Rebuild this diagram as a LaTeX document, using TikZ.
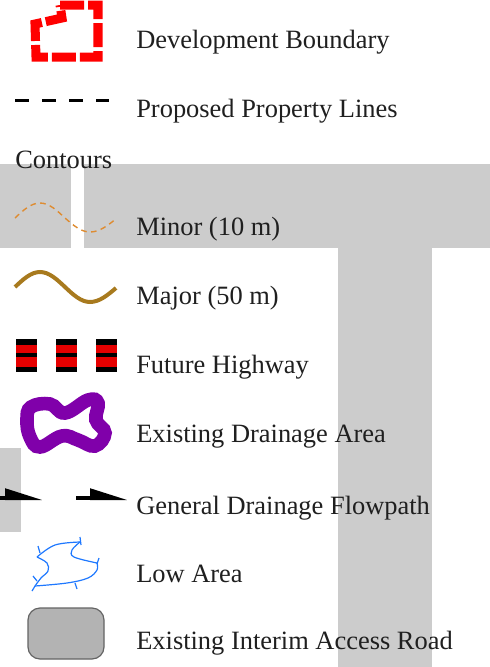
\documentclass[tikz,border=0pt]{standalone}
\usepackage{fontspec}
\setmainfont{Liberation Serif}
\usetikzlibrary{arrows.meta}
\definecolor{bggray}{RGB}{204,204,204}
\definecolor{minorc}{RGB}{222,140,50}
\definecolor{majorc}{RGB}{168,122,30}
\definecolor{hwred}{RGB}{230,0,0}
\definecolor{drainc}{RGB}{128,0,170}
\definecolor{lowc}{RGB}{30,120,255}
\definecolor{roadfill}{RGB}{179,179,179}
\definecolor{roadline}{RGB}{100,100,100}
\tikzset{
  lbl/.style={anchor=base west,inner sep=0pt,text=black!88,font=\fontsize{18.8}{22}\selectfont},
  flow/.style={line width=1mm,-{Triangle[harpoon,length=7.8mm,width=4.6mm]}}
}

\begin{document}
\begin{tikzpicture}[x=0.025cm,y=-0.025cm]
  \useasboundingbox (0,0) rectangle (490,667);
  \fill[bggray] (0,164) rectangle (71,248);
  \fill[bggray] (84,164) rectangle (490,248);
  \fill[bggray] (338,248) rectangle (432,667);
  \fill[bggray] (0,448) rectangle (21,532);

  \node[lbl] (1) at (136,48) {Development Boundary};
  \node[lbl] (2) at (136,117) {Proposed Property Lines};
  \node[lbl] (3) at (15,168) {Contours};
  \node[lbl] (4) at (136,235) {Minor (10 m)};
  \node[lbl] (5) at (136,304) {Major (50 m)};
  \node[lbl] (6) at (136,373) {Future Highway};
  \node[lbl] (7) at (136,442) {Existing Drainage Area};
  \node[lbl] (8) at (136,514) {General Drainage Flowpath};
  \node[lbl] (9) at (136,582) {Low Area};
  \node[lbl] (10) at (136,649) {Existing Interim Access Road};

  \draw[red,line width=2.25mm,dash pattern=on 6mm off 1mm]
    (60,5) -- (98,5) -- (98,57) -- (36,57) -- (35,24) -- (62,18) -- cycle;

  \draw[line width=0.75mm,dash pattern=on 3.5mm off 3.25mm] (15,100) -- (109,100);

  \draw[minorc,line width=0.35mm,dash pattern=on 1.4mm off 1.1mm]
    (15,218) sin (40,203) cos (65,218) sin (90,232) cos (117,218);
  \draw[majorc,line width=1mm]
    (15,287) sin (40,272) cos (65,287) sin (90,302) cos (116,288);

  \foreach \x in {16,56,96} {
    \fill[black] (\x,339) rectangle +(21,33);
    \fill[hwred] (\x,345) rectangle +(21,8);
    \fill[hwred] (\x,357) rectangle +(21,10);
  }

  \draw[drainc,line width=3.4mm] plot[smooth cycle,tension=0.7] coordinates {
    (31,407) (50,404) (65,413) (88,400) (98,403) (96,420) (105,433)
    (95,446) (78,440) (62,436) (40,447) (30,437) (27,420)};

  \coordinate (a1) at (0,498);
  \coordinate (a2) at (43,498);
  \coordinate (a3) at (76,498);
  \coordinate (a4) at (128,498);
  \draw[flow] (a1) -- (a2);
  \draw[flow] (a3) -- (a4);

  \begin{scope}[lowc,line width=0.3mm]
    \draw plot[smooth,tension=0.6] coordinates {(37,557) (55,545) (80,542)};
    \draw plot[smooth,tension=0.6] coordinates {(80,542) (72,550) (74,557) (97,563)};
    \draw plot[smooth,tension=0.6] coordinates {(97,563) (97,570) (88,578) (67,583) (35,586)};
    \draw plot[smooth,tension=0.6] coordinates {(35,586) (41,578) (48,571) (47,563) (37,557)};
    \draw (38,546) -- (40,553);
    \draw (80,537) -- (81,545);
    \draw (99,558) -- (97,564);
    \draw (75,583) -- (77,589);
    \draw (32,591) -- (35,586);
    \draw (33,576) -- (37,581);
  \end{scope}

  \draw[fill=roadfill,draw=roadline,line width=0.3mm,rounded corners=3mm]
    (28,608) rectangle (104,659);
\end{tikzpicture}
\end{document}
